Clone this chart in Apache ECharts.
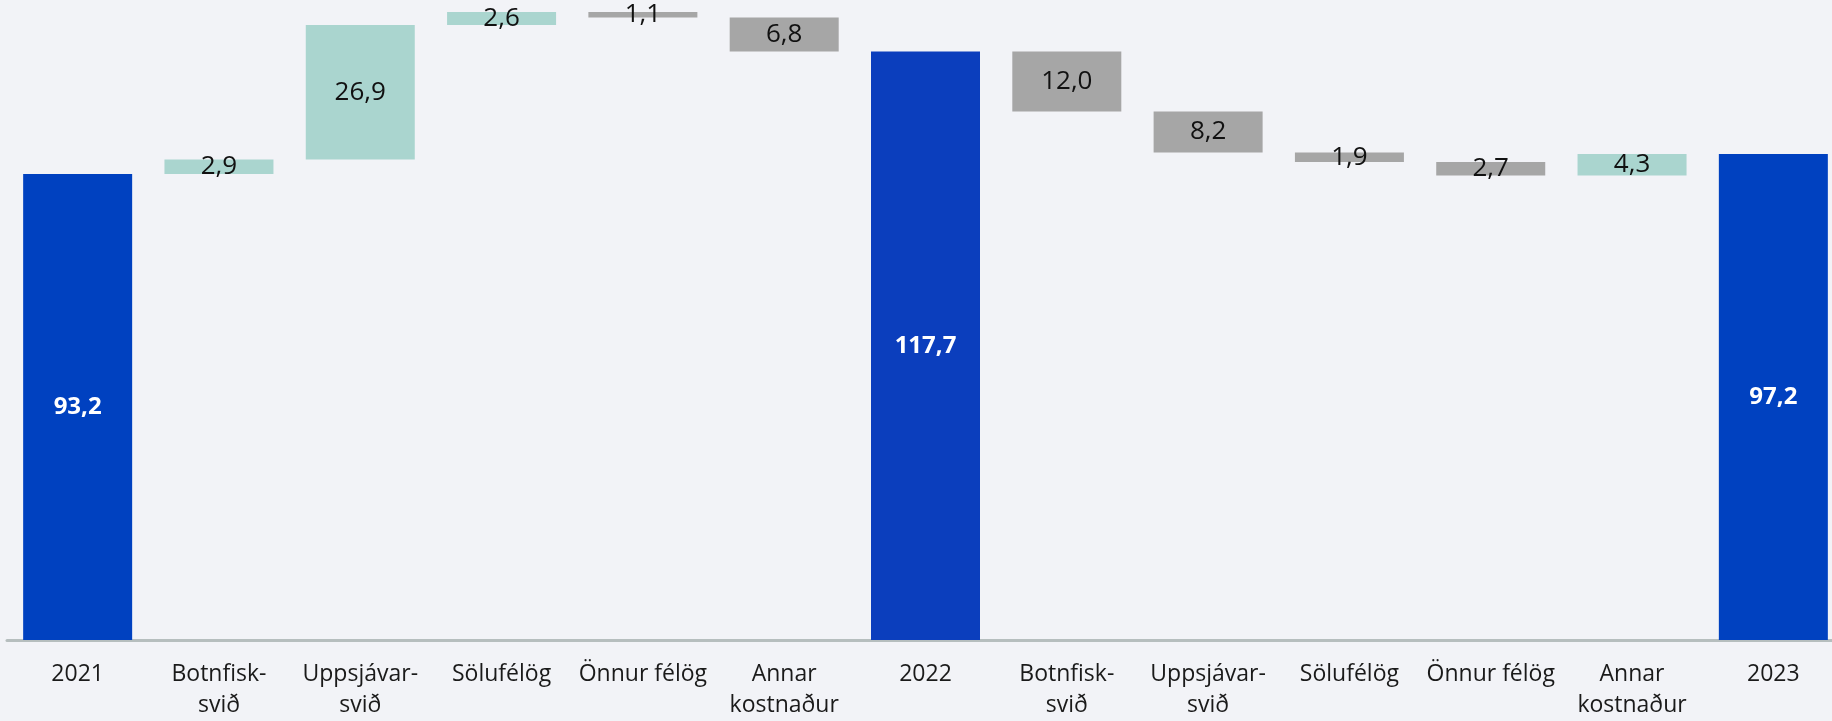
<!DOCTYPE html>
<html>
<head>
<meta charset="utf-8">
<script src="https://cdn.jsdelivr.net/npm/echarts@6/dist/echarts.min.js"></script>
<style>
html,body{margin:0;padding:0;background:#f2f3f7;overflow:hidden;width:1832px;height:721px;}
#chart{width:1850px;height:721px;}
</style>
</head>
<body>
<div id="chart"></div>
<script>
const categories = ['2021','Botnfisk-\nsvið','Uppsjávar-\nsvið','Sölufélög','Önnur félög','Annar\nkostnaður','2022','Botnfisk-\nsvið','Uppsjávar-\nsvið','Sölufélög','Önnur félög','Annar\nkostnaður','2023'];
const values = [93.2, 2.9, 26.9, 2.6, -1.1, -6.8, 117.7, -12.0, -8.2, -1.9, -2.7, 4.3, 97.2];
const isTotal = [true,false,false,false,false,false,true,false,false,false,false,false,true];

const totalColors = ['#0041c0','#0b3ebd','#0041c0'];
const upColor = '#aad5cf';
const downColor = '#a6a6a6';

const baseData = [];
const barData = [];
let running = 0, ti = 0;
values.forEach((v, i) => {
  if (isTotal[i]) {
    running = v;
    baseData.push(0);
    barData.push({value: v, raw: v, itemStyle: {color: totalColors[ti++]},
      label: {color: '#ffffff', fontWeight: 'bold', fontSize: 24}});
  } else {
    const start = running;
    running = start + v;
    baseData.push(Math.min(start, running));
    barData.push({value: Math.abs(v), raw: v, itemStyle: {color: v >= 0 ? upColor : downColor}});
  }
});

const fmt = v => Math.abs(v).toFixed(1).replace('.', ',');
const FONT = '"Open Sans", "Noto Sans", sans-serif';

const chart = echarts.init(document.getElementById('chart'), null, {renderer: 'canvas'});
chart.setOption({
  backgroundColor: '#f2f3f7',
  animation: false,
  grid: {left: 7, width: 1837, top: 0, height: 641.5, containLabel: false},
  xAxis: {
    type: 'category',
    data: categories,
    axisLine: {show: true, lineStyle: {color: '#b6bebe', width: 3}},
    axisTick: {show: false},
    axisLabel: {color: '#1a1a1a', fontSize: 23, lineHeight: 31, margin: 19, interval: 0,
      fontFamily: FONT}
  },
  yAxis: {type: 'value', min: 0, max: 128, show: false, splitLine: {show: false}},
  series: [
    {type: 'bar', stack: 'w', data: baseData, itemStyle: {color: 'transparent'}, silent: true, barWidth: 109},
    {type: 'bar', stack: 'w', data: barData, barWidth: 109, silent: true,
      label: {show: true, position: 'inside', fontSize: 26, color: '#111111',
        fontFamily: FONT,
        formatter: p => fmt(p.data.raw)}}
  ]
});
</script>
</body>
</html>
